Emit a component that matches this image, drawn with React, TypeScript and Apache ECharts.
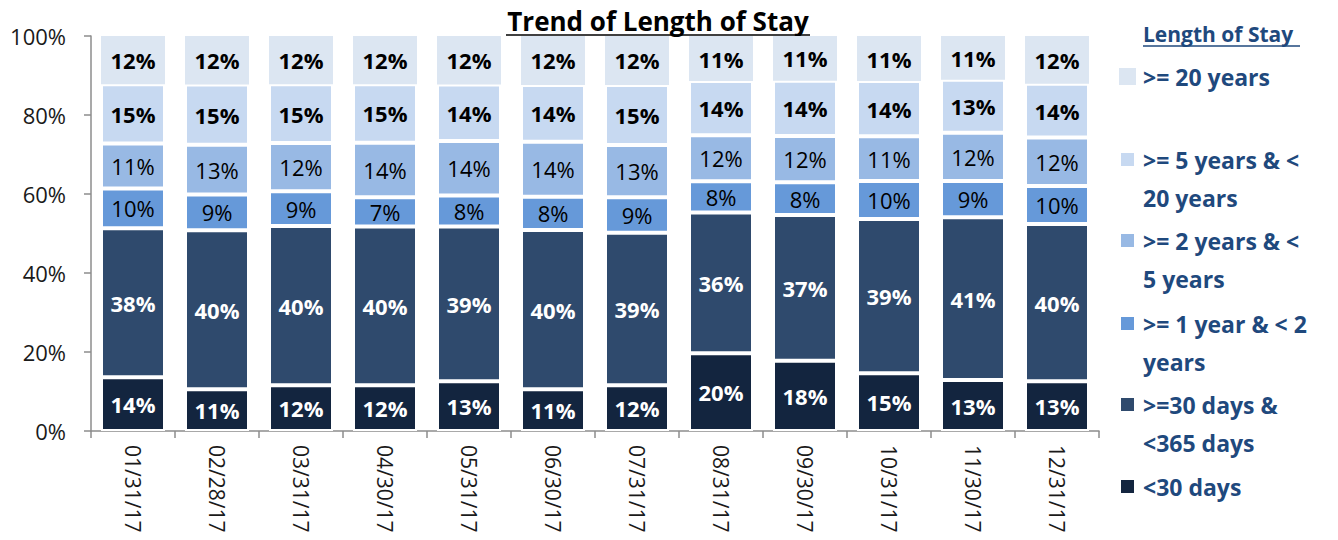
import React, { useEffect, useRef } from "react";
import * as echarts from "echarts";

const categories = ["01/31/17", "02/28/17", "03/31/17", "04/30/17", "05/31/17", "06/30/17", "07/31/17", "08/31/17", "09/30/17", "10/31/17", "11/30/17", "12/31/17"];
const lt30 = [13.6, 10.6, 11.6, 11.6, 12.6, 10.6, 11.6, 19.7, 17.8, 14.6, 12.9, 12.6];
const d30to365 = [37.7, 40.2, 40.3, 40.2, 39.2, 40.3, 38.6, 35.6, 36.9, 39.1, 41.2, 39.8];
const y1to2 = [10.1, 9.1, 8.8, 7.4, 7.8, 8.4, 9.0, 7.9, 8.3, 9.6, 9.2, 9.6];
const y2to5 = [11.4, 12.6, 12.2, 13.8, 13.8, 13.9, 13.2, 11.7, 11.7, 11.3, 12.2, 12.3];
const y5to20 = [15.0, 15.2, 14.9, 14.8, 14.3, 14.4, 15.2, 13.7, 14.0, 14.0, 13.4, 13.6];
const y20plus = [12.2, 12.3, 12.2, 12.2, 12.3, 12.4, 12.4, 11.4, 11.3, 11.4, 11.1, 12.1];
const yTicks = [0, 20, 40, 60, 80, 100];

const seriesNames = [">= 20 years", ">= 5 years & < 20 years", ">= 2 years & < 5 years", ">= 1 year & < 2 years", ">=30 days & <365 days", "<30 days"];
const legendLines = [[">= 20 years"], [">= 5 years & <", "20 years"], [">= 2 years & <", "5 years"], [">= 1 year & < 2", "years"], [">=30 days &", "<365 days"], ["<30 days"]];
const colors = ["#DCE6F2", "#C7D9F1", "#98B9E4", "#6699D9", "#2F4A6D", "#13253F"];

const FONT = "'Open Sans', sans-serif";

export default function App() {
  const ref = useRef<HTMLDivElement>(null);
  useEffect(() => {
    if (!ref.current) return;
    const chart = echarts.init(ref.current, undefined, { renderer: "svg" });
    const data = [y20plus, y5to20, y2to5, y1to2, d30to365, lt30];
    const labelStyle = [
      { color: "#000", fontWeight: "bold" },
      { color: "#000", fontWeight: "bold" },
      { color: "#000", fontWeight: "normal" },
      { color: "#000", fontWeight: "normal" },
      { color: "#fff", fontWeight: "bold" },
      { color: "#fff", fontWeight: "bold" },
    ];
    const series: any[] = [];
    for (let i = 5; i >= 0; i--) {
      series.push({
        name: seriesNames[i],
        type: "bar",
        stack: "total",
        barWidth: 64,
        data: data[i],
        itemStyle: {
          color: colors[i],
          borderColor: i === 0 ? colors[i] : "#ffffff",
          borderWidth: 2,
        },
        label: {
          show: true,
          position: "inside",
          fontFamily: FONT,
          fontSize: 22,
          color: labelStyle[i].color,
          fontWeight: labelStyle[i].fontWeight,
          formatter: (p: any) => Math.round(p.value) + "%",
        },
      });
    }
    const legendGraphics: any[] = [];
    const iconCenters = [76.5, 159.5, 240.5, 323.5, 404.5, 486.5];
    legendLines.forEach((lines, i) => {
      const size = i === 0 ? 17 : 13;
      legendGraphics.push({
        type: "rect",
        shape: { x: 1127.5 - size / 2, y: iconCenters[i] - size / 2, width: size, height: size },
        style: { fill: colors[i] },
      });
      legendGraphics.push({
        type: "text",
        x: 1143,
        y: iconCenters[i] - 19,
        style: {
          text: lines.join("\n"),
          fontFamily: FONT,
          fontSize: 23,
          fontWeight: "bold",
          fill: "#1F497D",
          lineHeight: 38,
          verticalAlign: "top",
          align: "left",
        },
      });
    });
    chart.setOption({
      animation: false,
      grid: { left: 91, right: 239, top: 36, bottom: 109, containLabel: false },
      xAxis: {
        type: "category",
        data: categories,
        axisLine: { show: true, lineStyle: { color: "#8C8C8C", width: 1.5 } },
        axisTick: { show: true, alignWithLabel: false, length: 7, lineStyle: { color: "#8C8C8C", width: 1.5 } },
        axisLabel: { rotate: -90, margin: 14, fontFamily: FONT, fontSize: 21, color: "#1a1a1a" },
      },
      yAxis: {
        type: "value",
        min: 0,
        max: 100,
        interval: 20,
        splitLine: { show: false },
        axisLine: { show: true, lineStyle: { color: "#8C8C8C", width: 1.5 } },
        axisTick: { show: true, length: 7, lineStyle: { color: "#8C8C8C", width: 1.5 } },
        axisLabel: {
          margin: 25,
          fontFamily: FONT,
          fontSize: 22,
          color: "#1a1a1a",
          formatter: (v: number) => (yTicks.indexOf(v) >= 0 ? v + "%" : ""),
        },
      },
      series,
      graphic: [
        {
          type: "text",
          x: 658,
          y: 21,
          style: { text: "Trend of Length of Stay", fontFamily: FONT, fontSize: 26, fontWeight: "bold", fill: "#000", align: "center", verticalAlign: "middle" },
        },
        { type: "line", shape: { x1: 506, y1: 35, x2: 810, y2: 35 }, style: { stroke: "#000", lineWidth: 1.5 } },
        {
          type: "text",
          x: 1143,
          y: 34,
          style: { text: "Length of Stay", fontFamily: FONT, fontSize: 21, fontWeight: "bold", fill: "#1F497D", align: "left", verticalAlign: "middle" },
        },
        { type: "line", shape: { x1: 1143, y1: 46, x2: 1300, y2: 46 }, style: { stroke: "#1F497D", lineWidth: 1.5 } },
        ...legendGraphics,
      ],
    });
    return () => chart.dispose();
  }, []);
  return <div ref={ref} style={{ position: "fixed", left: 0, top: 0, width: 1338, height: 540, background: "#fff" }} />;
}
